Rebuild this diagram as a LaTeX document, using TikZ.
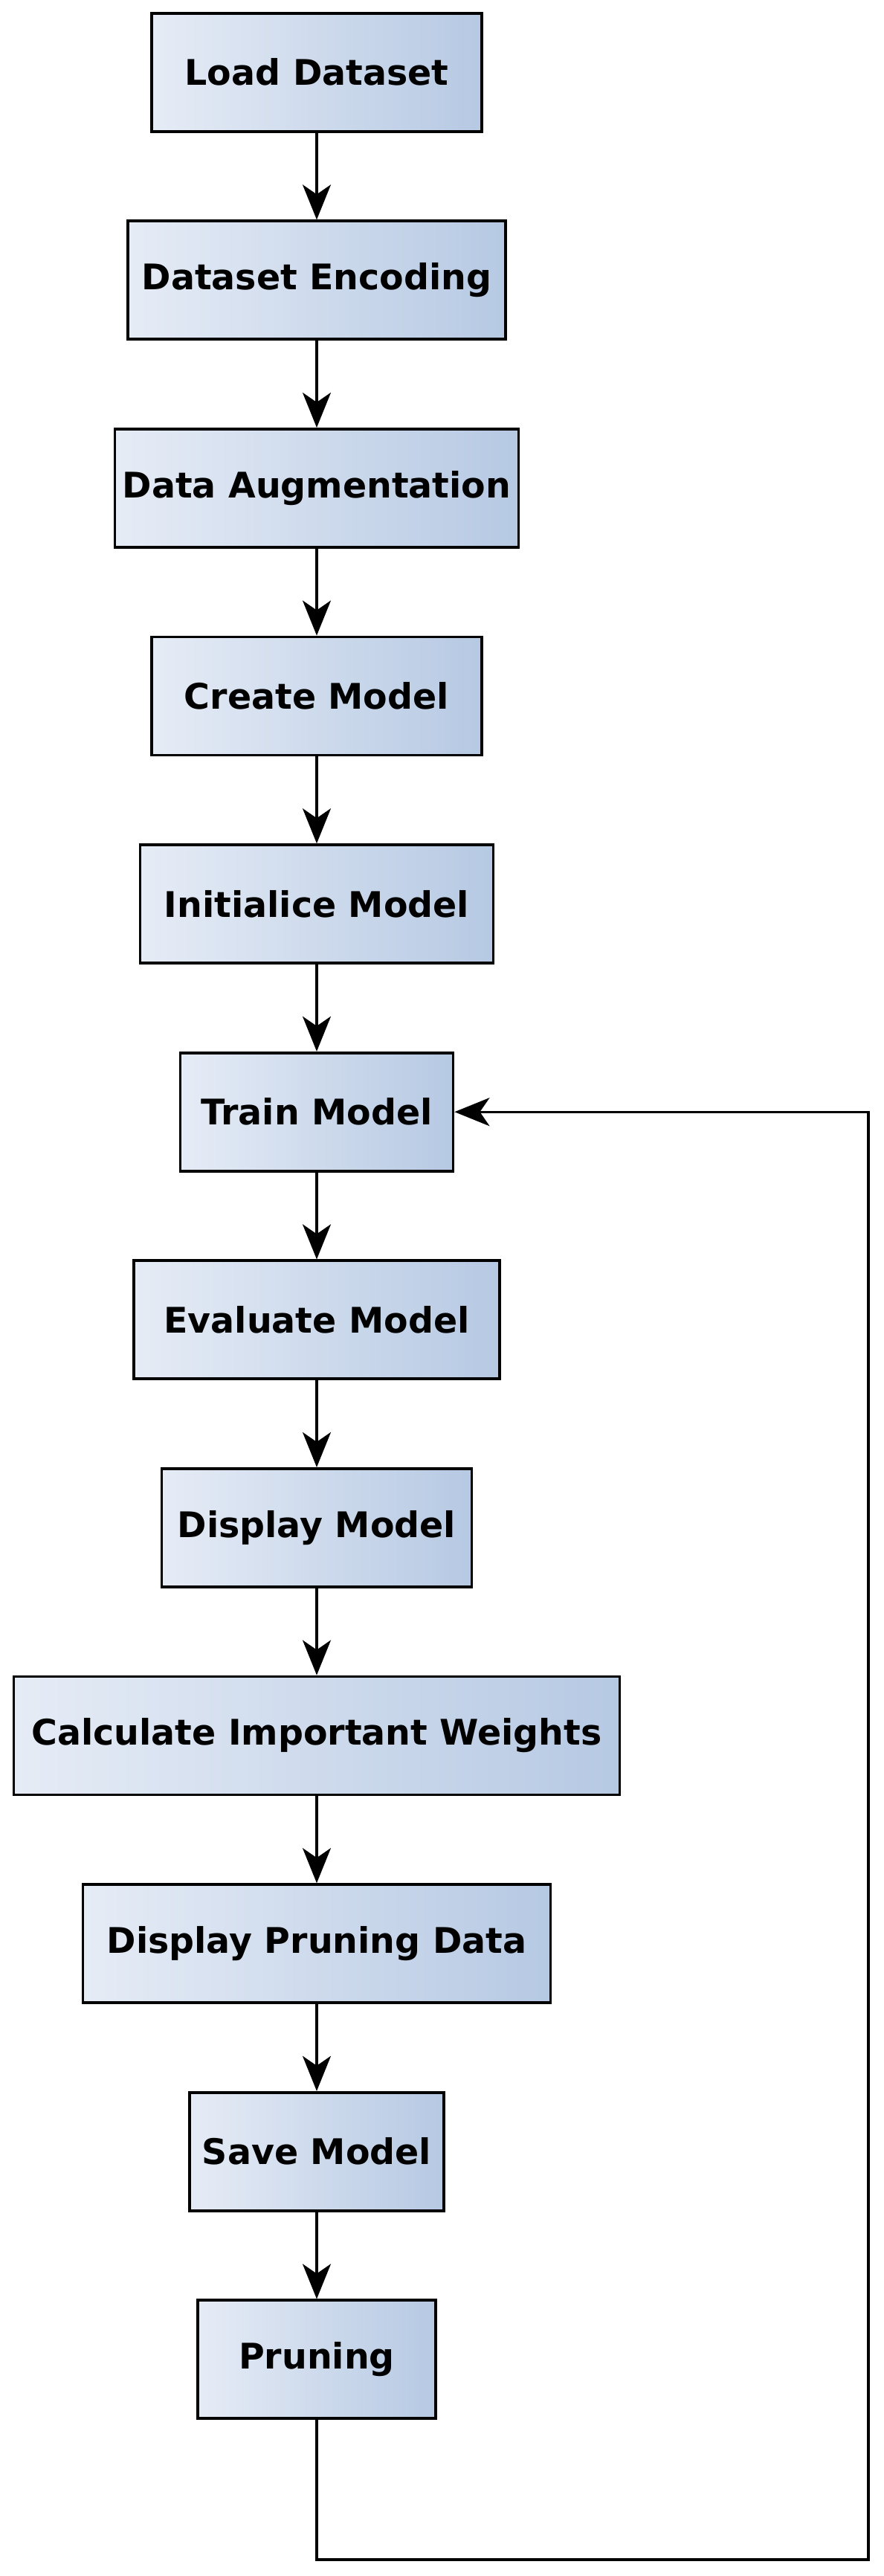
\documentclass[tikz,border=0pt]{standalone}
\usepackage{fontspec}
\setmainfont{DejaVu Sans}
\usetikzlibrary{arrows.meta}

\definecolor{boxleft}{HTML}{E6ECF6}
\definecolor{boxright}{HTML}{B6C9E3}

\tikzset{
  stepbox/.style={draw=black, line width=1.05pt, left color=boxleft, right color=boxright,
    minimum height=1.59cm, inner sep=0pt, font=\bfseries\fontsize{13.5}{16}\selectfont},
  flow/.style={line width=0.95pt, -{Stealth[length=13.4pt,width=10.8pt,inset=3.7pt]}}
}

\begin{document}
\begin{tikzpicture}
  \useasboundingbox (0,0) rectangle (11.88,-34.64);

  %steps
  \node[stepbox, minimum width=4.44cm] (load)  at (4.26,-0.972)  {Load Dataset};
  \node[stepbox, minimum width=5.08cm] (enc)   at (4.26,-3.768)  {Dataset Encoding};
  \node[stepbox, minimum width=5.43cm] (aug)   at (4.26,-6.564)  {Data Augmentation};
  \node[stepbox, minimum width=4.44cm] (create) at (4.26,-9.360) {Create Model};
  \node[stepbox, minimum width=4.75cm] (init)  at (4.26,-12.156) {Initialice Model};
  \node[stepbox, minimum width=3.67cm] (train) at (4.26,-14.952) {Train Model};
  \node[stepbox, minimum width=4.92cm] (eval)  at (4.26,-17.748) {Evaluate Model};
  \node[stepbox, minimum width=4.17cm] (disp)  at (4.26,-20.544) {Display Model};
  \node[stepbox, minimum width=8.15cm] (calc)  at (4.26,-23.340) {Calculate Important Weights};
  \node[stepbox, minimum width=6.29cm] (pdata) at (4.26,-26.136) {Display Pruning Data};
  \node[stepbox, minimum width=3.42cm] (save)  at (4.26,-28.932) {Save Model};
  \node[stepbox, minimum width=3.20cm] (prune) at (4.26,-31.728) {Pruning};

  %arrows
  \draw[flow] (load) -- (enc);
  \draw[flow] (enc) -- (aug);
  \draw[flow] (aug) -- (create);
  \draw[flow] (create) -- (init);
  \draw[flow] (init) -- (train);
  \draw[flow] (train) -- (eval);
  \draw[flow] (eval) -- (disp);
  \draw[flow] (disp) -- (calc);
  \draw[flow] (calc) -- (pdata);
  \draw[flow] (pdata) -- (save);
  \draw[flow] (save) -- (prune);

  %loop back
  \coordinate (loopA) at (4.26,-34.42);
  \coordinate (loopB) at (11.68,-34.42);
  \draw[flow] (prune) -- (loopA) -- (loopB) |- (train);
\end{tikzpicture}
\end{document}
